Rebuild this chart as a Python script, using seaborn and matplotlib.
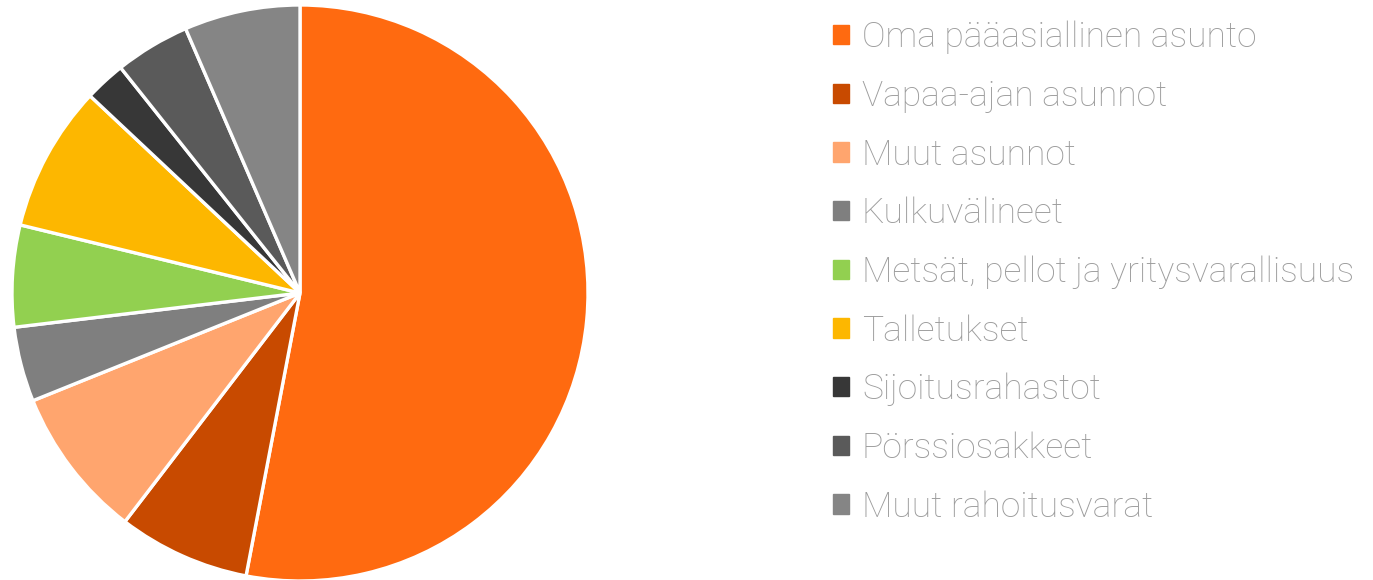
import matplotlib
matplotlib.use("Agg")
import matplotlib.pyplot as plt
import matplotlib.patches as mpatches
import seaborn as sns

# asset categories and their shares
labels = ["Oma pääasiallinen asunto", "Vapaa-ajan asunnot", "Muut asunnot",
          "Kulkuvälineet", "Metsät, pellot ja yritysvarallisuus", "Talletukset",
          "Sijoitusrahastot", "Pörssiosakkeet", "Muut rahoitusvarat"]
shares = [53.0, 7.4, 8.5, 4.2, 5.7, 8.2, 2.3, 4.2, 6.5]
colors = ["#FF6A10", "#C84A00", "#FFA56E", "#7F7F7F", "#92D050",
          "#FDB700", "#373737", "#5A5A5A", "#858585"]

sns.set_theme(style="white")
plt.rcParams["font.family"] = ["Roboto", "DejaVu Sans"]

fig = plt.figure(figsize=(13.73, 5.80), dpi=100)
ax = fig.add_axes([12 / 1373, -1 / 580, 576 / 1373, 576 / 580])

ax.pie(shares, colors=colors, startangle=90, counterclock=False,
       wedgeprops=dict(edgecolor="white", linewidth=2.4))
ax.set_xlim(-1, 1)
ax.set_ylim(-1, 1)
ax.set_aspect("equal")
ax.axis("off")

# legend on the right
handles = [mpatches.Patch(color=c, label=l) for c, l in zip(colors, labels)]
leg = fig.legend(handles=handles, loc="upper left",
                 bbox_to_anchor=(801 / 1373, 1 + 11 / 580),
                 frameon=False,
                 handlelength=0.46, handleheight=0.46, handletextpad=0.36,
                 labelspacing=0.71, prop=dict(weight="light", size=25.5))
for t in leg.get_texts():
    t.set_color("#9C9C9C")

fig.savefig("out.png", dpi=100)
